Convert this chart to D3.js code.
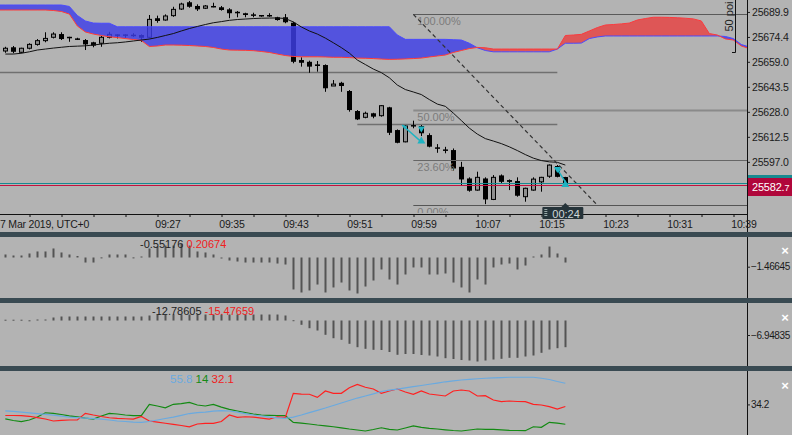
<!DOCTYPE html>
<html><head><meta charset="utf-8">
<script src="https://cdn.jsdelivr.net/npm/d3@7"></script>
<style>
body{margin:0;background:#b3b3b3;overflow:hidden}
svg{display:block}
text{font-family:"Liberation Sans",Arial,sans-serif}
</style></head>
<body><svg id="c" width="792" height="435"></svg>
<script>
// ---------- DATA ----------
const dateLabel = "7 Mar 2019, UTC+0";
const timeLabels = ["09:27","09:35","09:43","09:51","09:59","10:07","10:15","10:23","10:31","10:39"];
const timeLabelIdx = [19,27,35,43,51,59,67,75,83,91];
const priceTicks = [25689.9,25674.4,25659.0,25643.5,25628.0,25612.5,25597.0];

const open = [25665.7,25668.0,25664.9,25667.4,25669.8,25672.1,25674.2,25676.2,25674.5,25673.5,
25672.5,25671.1,25670.5,25674.2,25676.0,25676.0,25675.8,25675.6,25674.2,25686.0,
25684.9,25687.6,25691.7,25695.9,25693.6,25692.2,25693.6,25692.8,25691.5,25690.0,
25689.1,25688.4,25688.0,25688.0,25686.6,25686.6,25683.2,25660.1,25659.0,25657.4,
25657.0,25644.0,25646.0,25640.9,25628.5,25624.6,25627.1,25625.6,25630.8,25616.7,
25609.4,25619.8,25619.2,25613.6,25606.0,25604.7,25604.3,25593.9,25586.7,25579.5,
25586.7,25573.7,25588.6,25585.7,25585.1,25575.4,25579.5,25584.6,25588.1,25594.4,
25587.6];
const high = [25668.3,25668.8,25667.7,25670.5,25673.1,25677.3,25677.3,25677.3,25674.5,25673.9,
25673.1,25671.4,25675.0,25677.6,25676.0,25676.0,25676.7,25676.0,25688.0,25687.6,
25688.4,25693.1,25695.6,25696.7,25694.6,25694.2,25695.6,25693.6,25692.2,25690.5,
25689.4,25689.4,25688.0,25689.1,25686.9,25688.6,25683.8,25661.8,25659.7,25659.5,
25657.4,25647.7,25646.6,25641.5,25629.1,25628.1,25627.4,25632.2,25631.1,25617.1,
25619.8,25622.5,25619.8,25614.7,25608.0,25606.3,25605.3,25597.0,25587.4,25590.9,
25587.4,25588.8,25589.2,25586.1,25587.4,25581.0,25587.4,25587.7,25595.4,25595.0,
25587.7];
const low = [25664.6,25664.3,25664.3,25666.7,25669.0,25671.1,25673.5,25672.5,25671.4,25672.5,
25666.3,25668.0,25668.3,25673.5,25673.5,25673.9,25674.5,25671.4,25673.5,25683.2,
25684.5,25686.9,25691.1,25692.5,25690.5,25691.7,25692.8,25690.7,25686.0,25686.6,
25686.6,25686.6,25686.9,25686.9,25684.5,25682.9,25658.1,25656.0,25652.2,25652.9,
25640.4,25644.0,25640.4,25628.1,25622.9,25624.0,25624.0,25625.0,25613.6,25608.5,
25609.1,25617.8,25613.0,25606.0,25602.6,25602.3,25591.5,25582.6,25578.5,25579.1,
25570.8,25573.3,25583.7,25579.5,25575.4,25572.3,25579.1,25578.5,25587.1,25587.4,
25582.0];
const close = [25667.4,25665.2,25667.4,25669.8,25672.1,25673.5,25676.2,25673.1,25674.2,25672.9,
25669.8,25669.0,25674.2,25676.0,25675.6,25675.4,25675.2,25673.9,25685.3,25684.3,
25687.4,25691.5,25694.8,25693.1,25691.5,25693.6,25692.8,25691.1,25689.1,25689.1,
25688.0,25687.8,25687.2,25687.6,25684.9,25683.5,25659.0,25658.4,25656.0,25656.4,
25642.6,25645.2,25644.0,25629.1,25623.3,25627.1,25625.0,25631.8,25615.0,25608.8,
25619.2,25619.2,25614.7,25606.4,25605.1,25603.9,25592.9,25586.1,25579.1,25587.4,
25573.7,25587.4,25584.6,25584.6,25576.0,25580.6,25586.3,25587.4,25595.0,25587.7,
25582.7];
const ma = [25663.8,25663.8,25664.3,25665.2,25666.3,25666.9,25667.5,25668.0,25668.5,25668.7,
25668.9,25669.4,25670.0,25670.5,25670.8,25671.3,25671.9,25672.5,25673.1,25674.1,
25675.3,25676.5,25678.1,25679.6,25680.9,25682.1,25683.2,25683.9,25684.7,25685.2,
25685.5,25685.8,25686.0,25686.1,25686.2,25685.8,25683.7,25680.6,25678.1,25676.2,
25673.7,25670.8,25667.8,25664.4,25660.1,25657.3,25654.5,25652.3,25649.1,25644.6,
25641.8,25640.3,25638.7,25635.6,25632.8,25631.4,25627.2,25622.6,25617.9,25614.2,
25611.4,25609.9,25608.3,25606.3,25604.0,25601.5,25599.3,25597.8,25597.0,25596.7,
25595.0];
// Ichimoku cloud, indices -1 .. 93
const cloudStart = -1;
const spanA = [25691.1,25691.1,25691.1,25691.1,25691.1,25691.1,25691.1,
25690.8,25690.2,25688.6,25681.2,25677.5,25676.2,25675.3,25674.5,25674.0,25673.4,
25672.8,25672.2,25668.5,25668.8,25669.4,25669.4,25669.3,25669.1,25668.8,25668.5,
25667.9,25666.9,25666.3,25666.2,25666.1,25665.9,25665.4,25664.8,25663.8,25662.9,
25662.3,25662.1,25662.1,25662.1,25662.0,25661.8,25661.8,25661.6,25661.3,25661.2,
25661.0,25660.7,25660.5,25660.6,25660.8,25661.0,25661.3,25662.0,25662.6,25663.2,
25664.8,25666.0,25667.2,25667.9,25667.7,
25666.9,25666.9,25666.9,25666.9,25666.9,25666.9,25666.9,25666.9,25666.9,
25675.3,25675.6,25676.0,25678.1,25680.2,25681.8,25682.1,25682.5,25683.0,25684.9,
25685.8,25686.6,25686.6,25686.5,25686.3,25686.0,25685.6,25684.3,25676.5,25675.6,
25673.2,25672.5,25668.8,25667.2];
const spanB = [25694.2,25694.2,25694.2,25694.2,25694.2,25694.2,25694.2,25694.2,25694.2,
25693.3,25687.7,25684.3,25683.0,25682.9,25682.9,
25680.7,25680.7,25680.7,25680.7,25680.7,25680.7,25680.7,25680.7,25680.7,25680.7,
25680.7,25680.7,25680.7,25680.7,25680.7,25680.7,25680.7,25680.7,25680.7,25680.7,
25680.7,25680.7,25680.7,25680.7,25680.7,25680.7,25680.7,25680.7,25680.7,25680.7,
25680.7,25680.7,25680.7,25680.7,25680.7,
25675.6,25672.9,25672.9,25672.9,25672.9,25672.9,25672.9,25672.7,25672.5,25670.5,
25667.7,25666.0,
25665.2,25665.2,25665.2,25665.2,25665.2,25665.2,25665.2,25665.2,
25666.9,25670.5,25670.5,25670.6,25673.4,25674.4,
25675.0,25675.0,25675.0,25675.0,25675.0,25675.0,25675.0,25675.0,25675.0,25675.0,
25675.0,25675.0,25675.0,25675.0,25675.0,
25674.7,25673.4,25669.7,25668.2];
// horizontal lines, fibonacci, trend line
const hLevels = [{price:25652.8, from:-1, to:69},{price:25620.4, from:44, to:69}];
const fibHigh = 25688.4, fibLow = 25570.2, fibFrom = 51;
const fibLevels = [1, 0.5, 0.236, 0];
const fibTexts = ["100.00%","50.00%","23.60%","0.00%"];
const trend = [{i:51, p:25688.4},{i:74, p:25570.2}];
const bid = 25582.7, ask = 25584.2;
const trades = [
  {i0:49.6, p0:25619.8, id:52, i1:52, p1:25609.4, pd:25617.0, pu:25610.6},
  {i0:68.9, p0:25593.1, id:69, i1:70, p1:25584.5, pd:25591.9, pu:25583.6}
];
const rulerBase = 25665.1, rulerPoints = 50, rulerText = "50 poi";
// Panel 2 (MACD histogram)
const macdHist = [0.48,0.32,0.32,0.64,0.96,0.96,1.44,0.80,0.48,0.24,
-0.80,-0.80,0.02,0.48,0.48,0.48,0.02,0.16,1.44,1.75,
1.91,1.91,2.23,1.91,0.96,0.80,0.48,-0.02,-0.48,-0.64,
-0.80,-0.80,-0.80,-0.80,-0.96,-1.12,-5.10,-5.58,-5.26,-4.31,
-5.58,-4.78,-3.99,-5.26,-5.74,-4.63,-3.67,-1.91,-3.51,-4.31,
-2.71,-1.59,-1.59,-2.71,-2.71,-2.55,-3.99,-4.78,-5.58,-3.51,
-4.31,-1.59,-1.12,-0.96,-1.91,-1.28,0.16,0.48,1.75,0.64,
-0.80];
const macdLegend = ["-0.55176","0.20674"];
const macdTick = -1.46645;
// Panel 3
const p3Hist = [0.38,0.38,0.38,0.10,0.48,0.48,1.44,1.92,1.92,1.92,
1.92,1.92,1.92,1.92,1.92,1.92,1.92,1.92,2.40,2.87,
2.87,2.87,2.87,2.87,2.87,2.87,2.87,2.87,2.87,2.87,
2.87,2.87,2.87,2.87,2.87,2.40,0.14,-2.06,-3.69,-4.79,
-6.85,-8.48,-9.25,-11.16,-12.79,-13.56,-14.04,-14.13,-15.09,-16.43,
-16.05,-16.05,-16.53,-16.77,-17.25,-18.06,-18.45,-18.93,-19.17,-19.65,
-19.17,-18.69,-18.35,-17.87,-17.87,-17.25,-16.77,-15.48,-13.90,-13.27,
-12.79];
const p3Legend = ["-12.78605","-15.47659"];
const p3Tick = -6.94835;
// Panel 4 (ADX)
const adx = [27.7,27.1,26.4,25.6,24.9,24.1,23.2,22.2,21.3,20.8,
20.3,19.7,19.1,18.3,17.3,16.8,16.2,15.9,16.8,18.3,
19.8,21.3,23.1,24.9,25.9,26.4,27.3,27.8,27.5,26.4,
24.9,23.4,22.4,21.3,20.5,20.0,21.3,23.4,25.9,28.2,
30.5,33.1,35.6,38.2,40.7,42.8,45.0,47.4,48.7,49.9,
51.1,52.3,53.5,54.8,56.0,57.3,58.3,59.1,59.8,60.4,
60.9,61.3,61.6,61.9,61.9,61.9,61.9,60.9,59.6,57.6,
55.8];
const plusDI = [19.5,17.8,16.6,18.3,21.3,25.7,25.1,23.9,22.6,21.5,
20.3,19.3,22.4,25.1,24.4,23.4,22.7,22.7,34.3,32.6,
30.8,34.3,35.1,36.3,33.6,32.6,34.3,31.5,29.2,27.5,
25.9,24.4,23.4,23.1,22.9,22.7,15.9,15.2,14.2,13.2,
12.4,11.4,10.3,9.1,8.1,7.1,8.6,10.4,8.8,8.1,
10.1,12.2,10.8,9.8,9.1,8.3,7.6,7.1,8.1,9.1,
8.8,8.8,8.3,7.8,7.6,7.4,11.4,10.8,15.9,15.2,
14.0];
const minusDI = [22.9,22.9,22.7,22.1,20.8,19.3,17.3,18.0,18.3,18.3,
25.1,23.4,21.9,20.6,20.0,19.6,19.3,21.9,17.3,16.2,
15.0,13.9,12.7,11.4,14.2,14.9,14.9,16.8,23.4,21.0,
21.6,21.3,20.3,19.3,21.6,21.0,45.5,44.8,44.6,41.4,
47.9,45.5,45.5,51.2,54.7,51.7,49.9,45.5,47.9,49.9,
46.9,44.5,47.9,44.8,43.8,42.8,47.9,48.9,47.9,42.8,
43.1,38.7,37.0,37.7,37.2,37.0,34.3,33.6,31.9,29.5,
32.1];
const adxLegend = ["55.8","14","32.1"];
const adxTick = 34.2;
const countdown = "00:24";

// ---------- LAYOUT ----------
const W=792, H=435, R=747;
const AXF = 10.5, AXLS = -0.2;
const svg = d3.select('#c');
svg.append('rect').attr('width',W).attr('height',H).attr('fill','#b3b3b3');
const defs = svg.append('defs');

const x = d3.scaleLinear().domain([0,92]).range([5.33,741.33]);
const y = d3.scaleLinear().domain([25565.3,25697.3]).range([213,0]);
const px = i => Math.round(x(i));

defs.append('clipPath').attr('id','clipMain').append('rect').attr('x',0).attr('y',0).attr('width',R).attr('height',213);

const gMain = svg.append('g').attr('clip-path','url(#clipMain)');

// cloud
const cloud = spanA.map((a,k)=>({i:cloudStart+k, a, b:spanB[k]}));
const aboveA = d3.area().x(d=>x(d.i)).y0(0).y1(d=>y(d.a));
const belowA = d3.area().x(d=>x(d.i)).y0(d=>y(d.a)).y1(213);
defs.append('clipPath').attr('id','clipAbove').append('path').attr('d',aboveA(cloud));
defs.append('clipPath').attr('id','clipBelow').append('path').attr('d',belowA(cloud));
const band = d3.area().x(d=>x(d.i)).y0(d=>y(d.a)).y1(d=>y(d.b));

// horizontal levels
gMain.selectAll('.hl').data(hLevels).join('line')
  .attr('x1',d=>x(d.from)).attr('x2',d=>x(d.to))
  .attr('y1',d=>Math.round(y(d.price))+0.5).attr('y2',d=>Math.round(y(d.price))+0.5)
  .attr('stroke','#707070').attr('stroke-width',1.5);

// candles
const candles = d3.range(open.length).map(i=>({i,o:open[i],h:high[i],l:low[i],c:close[i]}));
const gC = gMain.append('g');
gC.selectAll('line').data(candles).join('line')
  .attr('x1',d=>px(d.i)+0.5).attr('x2',d=>px(d.i)+0.5)
  .attr('y1',d=>y(d.h)).attr('y2',d=>y(d.l))
  .attr('stroke','#000').attr('stroke-width',1);
gC.selectAll('rect').data(candles).join('rect')
  .attr('x',d=>d.c>d.o ? px(d.i)-1.5 : px(d.i)-2)
  .attr('width',d=>d.c>d.o ? 4 : 5)
  .attr('y',d=>Math.min(y(d.o),y(d.c)))
  .attr('height',d=>Math.max(1.5,Math.abs(y(d.o)-y(d.c))))
  .attr('fill',d=>d.c>d.o ? '#8f8f8f' : '#000')
  .attr('stroke',d=>d.c>d.o ? '#000' : 'none').attr('stroke-width',1);

// cloud fill over candles (semi-transparent)
gMain.append('path').attr('d',band(cloud)).attr('clip-path','url(#clipAbove)')
  .attr('fill','rgb(62,62,232)').attr('fill-opacity',0.82);
gMain.append('path').attr('d',band(cloud)).attr('clip-path','url(#clipBelow)')
  .attr('fill','rgb(235,60,60)').attr('fill-opacity',0.78);
gMain.append('path').datum(cloud).attr('d',d3.line().x(d=>x(d.i)).y(d=>y(d.b)))
  .attr('fill','none').attr('stroke','#4a4aff').attr('stroke-width',1);
gMain.append('path').datum(cloud).attr('d',d3.line().x(d=>x(d.i)).y(d=>y(d.a)))
  .attr('fill','none').attr('stroke','#ff3a3a').attr('stroke-width',1);

// fib
const fibY = f => fibLow + (fibHigh-fibLow)*f;
const fibColors = ['#5a5a5a','#8a8a8a','#666','#555'];
const fibW = [1,2,1.2,1.2];
fibLevels.forEach((f,k)=>{
  const yy = Math.round(y(fibY(f)));
  gMain.append('line').attr('x1',x(fibFrom)).attr('x2',R).attr('y1',yy+0.5).attr('y2',yy+0.5)
    .attr('stroke',fibColors[k]).attr('stroke-width',fibW[k]);
  gMain.append('text').attr('x',x(fibFrom)+4).attr('y',yy+11).text(fibTexts[k])
    .attr('font-size',11).attr('fill','#7c7c7c');
});

// MA line
gMain.append('path').datum(ma).attr('d',d3.line().x((d,i)=>x(i)).y(d=>y(d)))
  .attr('fill','none').attr('stroke','#111').attr('stroke-width',1);

// trend dashed
gMain.append('line').attr('x1',x(trend[0].i)).attr('y1',y(trend[0].p))
  .attr('x2',x(trend[1].i)).attr('y2',y(trend[1].p))
  .attr('stroke','#333').attr('stroke-width',1.2).attr('stroke-dasharray','4,3');

// price lines
gMain.append('line').attr('x1',0).attr('x2',R).attr('y1',Math.round(y(ask))+0.5).attr('y2',Math.round(y(ask))+0.5)
  .attr('stroke','#178a90').attr('stroke-width',1);
gMain.append('line').attr('x1',0).attr('x2',R).attr('y1',Math.round(y(bid))+0.5).attr('y2',Math.round(y(bid))+0.5)
  .attr('stroke','#c4123e').attr('stroke-width',1.2);

// trade markers
const cy = '#1eb3c2';
trades.forEach(t=>{
  gMain.append('line').attr('x1',x(t.i0)).attr('y1',y(t.p0)).attr('x2',x(t.i1)).attr('y2',y(t.p1))
    .attr('stroke',cy).attr('stroke-width',1.5);
  const x0 = x(t.i0), y0=y(t.p0);
  gMain.append('path').attr('d',`M${x0},${y0} l5,1 l-3,3 z`).attr('fill',cy);
  const xa = x(t.id), xb = x(t.i1);
  const yd = y(t.pd), yu = y(t.pu);
  gMain.append('path').attr('d',`M${xa-3.5},${yd-3} L${xa+3.5},${yd-3} L${xa},${yd+3} Z`).attr('fill',cy);
  gMain.append('path').attr('d',`M${xb-4},${yu+3.5} L${xb+4},${yu+3.5} L${xb},${yu-3.5} Z`).attr('fill',cy);
});

// 50 points ruler
const rY0 = Math.round(y(rulerBase))+0.5, rY1 = y(rulerBase+rulerPoints);
gMain.append('path').attr('d',`M732,${rY0} H735.5 V${rY1}`).attr('fill','none').attr('stroke','#111').attr('stroke-width',1);
gMain.append('text').attr('transform',`translate(733,${rY0-21}) rotate(-90)`).text(rulerText)
  .attr('font-size',11).attr('fill','#222');

// right price axis
const gAx = svg.append('g').attr('transform',`translate(${R},0)`)
  .call(d3.axisRight(y).tickValues(priceTicks).tickSize(3).tickPadding(2).tickFormat(d3.format('.1f')));
gAx.select('.domain').remove();
gAx.selectAll('text').attr('font-size',AXF).attr('letter-spacing',AXLS).attr('fill','#1a1a1a').attr('font-family','"Liberation Sans",Arial,sans-serif');
gAx.selectAll('line').attr('stroke','#222');
svg.append('line').attr('x1',R+0.5).attr('x2',R+0.5).attr('y1',0).attr('y2',232).attr('stroke','#111').attr('stroke-width',1);

// price tag
const yb = y(bid), ya = y(ask);
svg.append('rect').attr('x',R+1).attr('y',Math.round(ya)-8).attr('width',W-R).attr('height',17).attr('fill','#178a90');
svg.append('rect').attr('x',R+1).attr('y',Math.round(yb)-7).attr('width',W-R).attr('height',18).attr('fill','#b0073b');
const tg = svg.append('text').attr('x',R+5).attr('y',Math.round(yb)+6).attr('fill','#fff').attr('font-size',11).attr('letter-spacing',AXLS);
const bs = d3.format('.1f')(bid).split('.');
tg.append('tspan').text(bs[0]+'.');
tg.append('tspan').text(bs[1]).attr('font-size',9);

// time axis
svg.append('line').attr('x1',0).attr('x2',R).attr('y1',214.5).attr('y2',214.5).attr('stroke','#111');
const gT = svg.append('g').attr('transform','translate(0,214)')
  .call(d3.axisBottom(x).tickValues(d3.range(3,94,4)).tickSize(3).tickFormat(''));
gT.select('.domain').remove();
gT.selectAll('line').attr('stroke','#111').attr('transform',d=>`translate(${px(d)-x(d)+0.5},0)`);
svg.selectAll('.tl').data(timeLabels).join('text')
  .attr('x',(d,k)=>x(timeLabelIdx[k])-2).attr('y',228).text(d=>d)
  .attr('font-size',AXF).attr('letter-spacing',AXLS).attr('fill','#1a1a1a');
svg.append('text').attr('x',0).attr('y',228).text(dateLabel).attr('font-size',AXF).attr('letter-spacing',AXLS).attr('fill','#1a1a1a');

// countdown box
const xc = x(open.length-1);
svg.append('path').attr('d',`M${xc-4},207 L${xc+4},207 L${xc},203 Z`).attr('fill','#26343a');
svg.append('rect').attr('x',xc-23).attr('y',207).attr('width',41).attr('height',12).attr('fill','#26343a').attr('rx',1);
[209.5,211.5,213.5,215.5].forEach(v=>svg.append('line').attr('x1',xc-21).attr('x2',xc-18).attr('y1',v).attr('y2',v).attr('stroke','#9aa').attr('stroke-width',1));
svg.append('text').attr('x',xc-13).attr('y',217.5).text(countdown).attr('font-size',11).attr('fill','#d0d8da');

// separators
[232,298,366].forEach(v=>svg.append('rect').attr('x',0).attr('y',v).attr('width',W).attr('height',5).attr('fill','#394a52'));

// ---------- sub panels ----------
function panelAxis(top,bottom,yS,tick,fmt){
  svg.append('line').attr('x1',R+0.5).attr('x2',R+0.5).attr('y1',top).attr('y2',bottom).attr('stroke','#111');
  const g = svg.append('g').attr('transform',`translate(${R},0)`)
    .call(d3.axisRight(yS).tickValues([tick]).tickSize(3).tickPadding(1).tickFormat(fmt));
  g.select('.domain').remove();
  g.selectAll('text').attr('font-size',10).attr('letter-spacing',-0.4).attr('fill','#1a1a1a').attr('font-family','"Liberation Sans",Arial,sans-serif');
  g.selectAll('line').attr('stroke','#222');
  svg.append('text').attr('x',785).attr('y',top+(bottom-top)*0.25+3).attr('text-anchor','middle')
    .text('×').attr('font-size',13).attr('font-weight','bold').attr('fill','#fff');
}

// Panel 2
const y2 = d3.scaleLinear().domain([-6.46,3.27]).range([298,237]);
svg.append('g').selectAll('rect').data(macdHist).join('rect')
  .attr('x',(d,i)=>px(i)-0.5).attr('width',2)
  .attr('y',d=>Math.min(y2(d),y2(0))).attr('height',d=>Math.max(1,Math.abs(y2(d)-y2(0))))
  .attr('fill','#545454');
panelAxis(237,298,y2,macdTick,d3.format('.5f'));
const l2 = svg.append('text').attr('x',140).attr('y',248).attr('font-size',11);
l2.append('tspan').text(macdLegend[0]).attr('fill','#222');
l2.append('tspan').text(' '+macdLegend[1]).attr('fill','#f02020');

// Panel 3
const y3 = d3.scaleLinear().domain([-21.8,8.39]).range([366,303]);
svg.append('g').selectAll('rect').data(p3Hist).join('rect')
  .attr('x',(d,i)=>px(i)-0.5).attr('width',2)
  .attr('y',d=>Math.min(y3(d),y3(0))).attr('height',d=>Math.max(1,Math.abs(y3(d)-y3(0))))
  .attr('fill','#545454');
panelAxis(303,366,y3,p3Tick,d3.format('.5f'));
const l3 = svg.append('text').attr('x',152).attr('y',315).attr('font-size',11);
l3.append('tspan').text(p3Legend[0]).attr('fill','#222');
l3.append('tspan').text(' '+p3Legend[1]).attr('fill','#f02020');

// Panel 4
const y4 = d3.scaleLinear().domain([3.0,68.3]).range([435,371]);
const ln4 = d3.line().x((d,i)=>x(i)).y(d=>y4(d));
svg.append('path').datum(plusDI).attr('d',ln4).attr('fill','none').attr('stroke','#138a13').attr('stroke-width',1.2);
svg.append('path').datum(minusDI).attr('d',ln4).attr('fill','none').attr('stroke','#ff2020').attr('stroke-width',1.2);
svg.append('path').datum(adx).attr('d',ln4).attr('fill','none').attr('stroke','#6aaae0').attr('stroke-width',1.2);
panelAxis(371,435,y4,adxTick,d3.format('.1f'));
const l4 = svg.append('text').attr('x',170).attr('y',383).attr('font-size',11.5);
l4.append('tspan').text(adxLegend[0]).attr('fill','#6aaae0');
l4.append('tspan').text(' '+adxLegend[1]).attr('fill','#138a13');
l4.append('tspan').text(' '+adxLegend[2]).attr('fill','#f02020');
</script></body></html>
